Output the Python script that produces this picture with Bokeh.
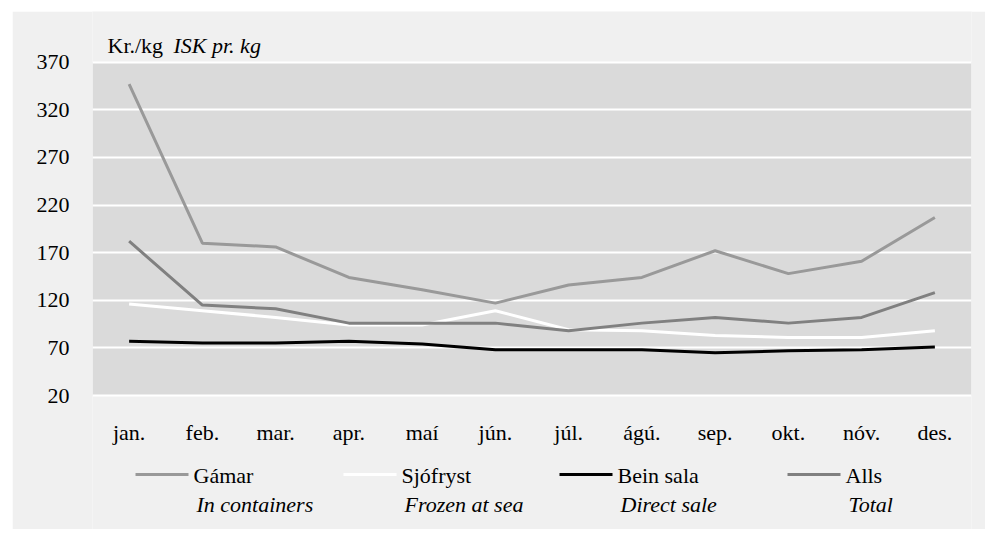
from bokeh.plotting import figure
from bokeh.models import FactorRange, Range1d, FixedTicker, BoxAnnotation
from bokeh.embed import file_html
from bokeh.resources import INLINE
from bokeh.core.properties import value

months = ["jan.", "feb.", "mar.", "apr.", "maí", "jún.", "júl.", "ágú.", "sep.", "okt.", "nóv.", "des."]
gamar = [347, 180, 176, 144, 131, 117, 136, 144, 172, 148, 161, 207]
sjofryst = [116, 109, 102, 94, 94, 109, 89, 88, 83, 81, 81, 88]
bein_sala = [77, 75, 75, 77, 74, 68, 68, 68, 65, 67, 68, 71]
alls = [182, 115, 111, 96, 96, 96, 88, 96, 102, 96, 102, 128]
y_ticks = [20, 70, 120, 170, 220, 270, 320, 370]

series = [
    ("Gámar", "In containers", gamar, "#999999"),
    ("Sjófryst", "Frozen at sea", sjofryst, "#ffffff"),
    ("Bein sala", "Direct sale", bein_sala, "#000000"),
    ("Alls", "Total", alls, "#808080"),
]

FONT = "Liberation Serif"
BG = "#f0f0f0"
FS = "22px"

# geometry (page pixels)
FIG_X0, FIG_Y0, FIG_W, FIG_H = 12, 11, 973, 518
PLOT_L, PLOT_R, PLOT_T, PLOT_B = 92, 971, 61.7, 395.0
Y_LO, Y_HI = y_ticks[0], y_ticks[-1]
K = (Y_HI - Y_LO) / (PLOT_B - PLOT_T)          # data units per pixel
XW = (PLOT_R - PLOT_L) / len(months)            # pixels per category
TXT_FIX = 7                                     # baseline correction for text glyphs


def ydat(py):
    return Y_LO + (PLOT_B - py) * K


def ytxt(py):
    return ydat(py - TXT_FIX)


def xdat(px):
    return (px - PLOT_L) / XW


p = figure(width=FIG_W, height=FIG_H, x_range=FactorRange(*months, range_padding=0),
           y_range=Range1d(ydat(FIG_Y0 + FIG_H), ydat(FIG_Y0)),
           output_backend="svg", toolbar_location=None,
           min_border_left=PLOT_L - FIG_X0, min_border_right=FIG_X0 + FIG_W - PLOT_R,
           min_border_top=0, min_border_bottom=0)
p.margin = (FIG_Y0, 0, 0, FIG_X0)
p.background_fill_color = BG
p.border_fill_color = BG
p.outline_line_color = None
p.xaxis.visible = False
p.xgrid.grid_line_color = None
p.ygrid.grid_line_color = "white"
p.ygrid.grid_line_width = 2
p.yaxis.ticker = FixedTicker(ticks=y_ticks)
p.yaxis.axis_line_color = None
p.yaxis.major_tick_line_color = None
p.yaxis.minor_tick_line_color = None
p.yaxis.major_label_text_font = FONT
p.yaxis.major_label_text_font_size = FS
p.yaxis.major_label_text_color = "#000000"
p.yaxis.major_label_standoff = 17

p.add_layout(BoxAnnotation(bottom=Y_LO, top=Y_HI, fill_color="#dadada", fill_alpha=1,
                           line_color=None, level="image"))

for name, en, vals, color in series:
    p.line(months, vals, line_color=color, line_width=3)

# category labels
p.text(x=months, y=[ytxt(439)] * len(months), text=months, text_font=value(FONT),
       text_font_size=FS, text_align="center", text_baseline="alphabetic", text_color="#000000")

# unit label
p.text(x=[xdat(107)], y=[ytxt(52)], text=["Kr./kg"], text_font=value(FONT), text_font_size=FS,
       text_baseline="alphabetic", text_color="#000000")
p.text(x=[xdat(173)], y=[ytxt(52)], text=["ISK pr. kg"], text_font=value(FONT), text_font_size=FS,
       text_font_style="italic", text_baseline="alphabetic", text_color="#000000")

# legend
item_x = [135, 343, 559, 787]
for (name, en, vals, color), x0 in zip(series, item_x):
    p.segment(x0=[xdat(x0)], y0=[ydat(474)], x1=[xdat(x0 + 53)], y1=[ydat(474)],
              line_color=color, line_width=3)
    p.text(x=[xdat(x0 + 58)], y=[ytxt(482)], text=[name], text_font=value(FONT), text_font_size=FS,
           text_baseline="alphabetic", text_color="#000000")
    p.text(x=[xdat(x0 + 61)], y=[ytxt(511)], text=[en], text_font=value(FONT), text_font_size=FS,
           text_font_style="italic", text_baseline="alphabetic", text_color="#000000")

open("out.html", "w").write(file_html(p, INLINE))
